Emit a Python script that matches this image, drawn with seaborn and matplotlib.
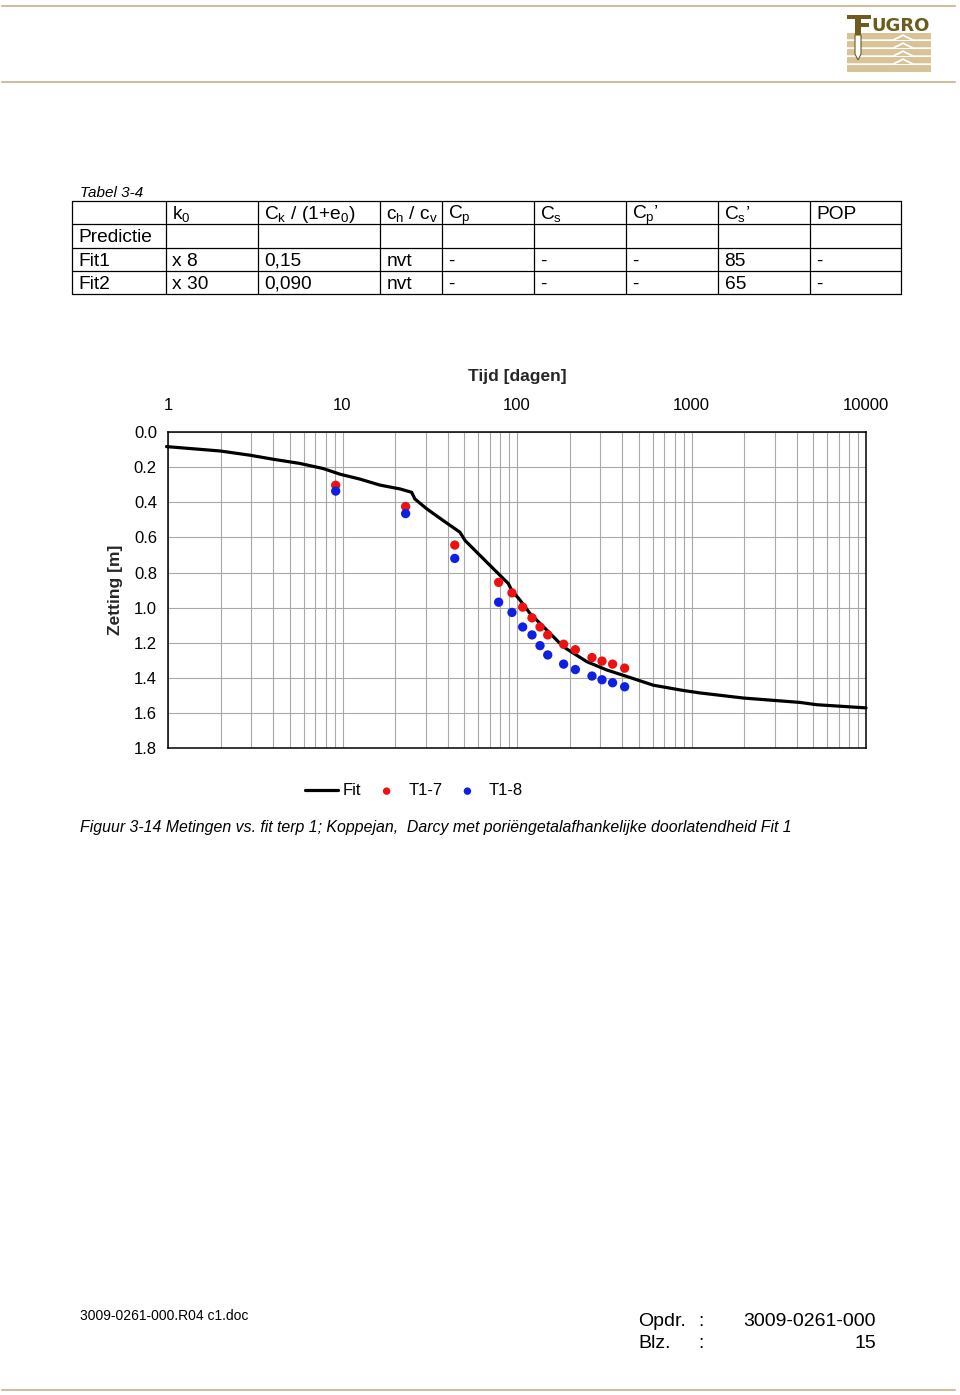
import numpy as np
import pandas as pd
import matplotlib
matplotlib.use("Agg")
import matplotlib.pyplot as plt
import seaborn as sns
from matplotlib.patches import Rectangle, Polygon
from matplotlib.ticker import FixedLocator, NullFormatter, FixedFormatter, FormatStrFormatter

# ---------------- data ----------------
table_header = ["", "k$_\\mathrm{0}$", "C$_\\mathrm{k}$ / (1+e$_\\mathrm{0}$)", "c$_\\mathrm{h}$ / c$_\\mathrm{v}$",
                "C$_\\mathrm{p}$", "C$_\\mathrm{s}$", "C$_\\mathrm{p}$\u2019", "C$_\\mathrm{s}$\u2019", "POP"]
table_row_predictie = ["Predictie", "", "", "", "", "", "", "", ""]
table_row_fit1 = ["Fit1", "x 8", "0,15", "nvt", "-", "-", "-", "85", "-"]
table_row_fit2 = ["Fit2", "x 30", "0,090", "nvt", "-", "-", "-", "65", "-"]

fit_time = [0.98, 1.99, 2.95, 4.01, 5.71, 7.76, 9.68, 12.6, 16.4, 21.4, 24.9, 26.0, 30.4,
            37.8, 47.1, 50.4, 58.7, 73.1, 89.2, 93.3, 104, 118.7, 148, 184, 251, 326, 425,
            604, 897, 1119, 1983, 4190, 5213, 10000]
fit_settlement = [0.083, 0.108, 0.132, 0.155, 0.179, 0.208, 0.240, 0.268, 0.302, 0.324, 0.343,
                  0.381, 0.437, 0.504, 0.570, 0.617, 0.683, 0.777, 0.862, 0.900, 0.956, 1.032,
                  1.126, 1.221, 1.306, 1.353, 1.390, 1.440, 1.470, 1.484, 1.513, 1.538, 1.551,
                  1.569]
meas_time = [9.14, 23.0, 44.0, 78.5, 93.6, 107.8, 121.9, 135.5, 150, 185, 216, 269, 307, 353, 414]
t1_7 = [0.303, 0.424, 0.643, 0.855, 0.915, 0.996, 1.057, 1.109, 1.154, 1.207, 1.238, 1.283,
        1.303, 1.320, 1.343]
t1_8 = [0.336, 0.464, 0.719, 0.968, 1.026, 1.109, 1.154, 1.215, 1.268, 1.320, 1.351, 1.388,
        1.409, 1.426, 1.449]

x_ticks = [1, 10, 100, 1000, 10000]
x_tick_labels = ["1", "10", "100", "1000", "10000"]
y_ticks = [0.0, 0.2, 0.4, 0.6, 0.8, 1.0, 1.2, 1.4, 1.6, 1.8]

# ---------------- style ----------------
sns.set_theme(style="white")
plt.rcParams["font.family"] = ["Liberation Sans", "DejaVu Sans"]
plt.rcParams["mathtext.fontset"] = "custom"
plt.rcParams["mathtext.rm"] = "Liberation Sans"
plt.rcParams["mathtext.it"] = "Liberation Sans:italic"
plt.rcParams["mathtext.bf"] = "Liberation Sans:bold"
plt.rcParams["text.color"] = "black"

W, H = 960, 1395
fig = plt.figure(figsize=(W / 100, H / 100), dpi=100)
fig.patch.set_facecolor("white")

# page overlay in pixel coordinates
bg = fig.add_axes([0, 0, 1, 1], zorder=0)
bg.set_xlim(0, W)
bg.set_ylim(H, 0)
bg.axis("off")

rule_col = "#cbbf9f"
bg.plot([2, 955], [6, 6], color=rule_col, lw=1.5)
bg.plot([2, 955], [82, 82], color=rule_col, lw=1.5)
bg.plot([2, 955], [1390, 1390], color=rule_col, lw=1.5)

# logo
olive = "#6e5c1e"
tan = "#d8c399"
stripe_tops = [33, 41, 49, 57, 65]
for yt in stripe_tops:
    bg.add_patch(Rectangle((847, yt), 84, 6.5, color=tan, lw=0, zorder=2))
for yt in stripe_tops[:-1]:
    g = yt + 7.2
    bg.plot([847, 893, 903, 913, 931], [g, g, g - 5, g, g], color="white", lw=1.3, zorder=3)
bg.add_patch(Rectangle((847, 15), 24, 4, color=olive, lw=0, zorder=4))
bg.add_patch(Rectangle((855, 15), 6, 20, color=olive, lw=0, zorder=4))
bg.add_patch(Rectangle((861, 23), 8, 3.5, color=olive, lw=0, zorder=4))
bg.add_patch(Polygon([[855, 35], [861, 35], [861, 54], [858, 60], [855, 54]],
                     closed=True, facecolor="white", edgecolor=olive, lw=0.8, zorder=4))
bg.text(871, 31, "UGRO", color=olive, fontsize=13, fontweight="heavy",
        family=["DejaVu Sans"], ha="left", va="baseline", zorder=5)

# table
bg.text(80, 197, "Tabel 3-4", fontsize=11, style="italic", ha="left", va="baseline")
col_edges = [72, 166, 258, 380, 442, 534, 626, 718, 810, 901]
row_edges = [201, 224.3, 247.7, 271, 294]
for xe in col_edges:
    bg.plot([xe, xe], [row_edges[0], row_edges[-1]], color="black", lw=0.9)
for ye in row_edges:
    bg.plot([col_edges[0], col_edges[-1]], [ye, ye], color="black", lw=0.9)
for r, row in enumerate([table_header, table_row_predictie, table_row_fit1, table_row_fit2]):
    for c, cell in enumerate(row):
        if cell:
            bg.text(col_edges[c] + 6.5, row_edges[r + 1] - 5.2, cell, fontsize=13.8,
                    ha="left", va="baseline")

# caption & footer
bg.text(80, 832, "Figuur 3-14 Metingen vs. fit terp 1; Koppejan,  Darcy met poriëngetalafhankelijke "
        "doorlatendheid Fit 1", fontsize=11.4, style="italic", ha="left", va="baseline")
bg.text(80, 1320, "3009-0261-000.R04 c1.doc", fontsize=10, ha="left", va="baseline")
bg.text(638, 1326, "Opdr.", fontsize=14, ha="left", va="baseline")
bg.text(698, 1326, ":", fontsize=14, ha="left", va="baseline")
bg.text(876, 1326, "3009-0261-000", fontsize=14, ha="right", va="baseline")
bg.text(638, 1348, "Blz.", fontsize=14, ha="left", va="baseline")
bg.text(698, 1348, ":", fontsize=14, ha="left", va="baseline")
bg.text(876, 1348, "15", fontsize=14, ha="right", va="baseline")

# ---------------- chart ----------------
ax_l, ax_r, ax_t, ax_b = 168, 866, 432, 748.5
ax = fig.add_axes([ax_l / W, 1 - ax_b / H, (ax_r - ax_l) / W, (ax_b - ax_t) / H], zorder=2)
ax.set_xscale("log")

fit_df = pd.DataFrame({"Tijd": fit_time, "Zetting": fit_settlement})
meas_df = pd.DataFrame({"Tijd": meas_time, "T1-7": t1_7, "T1-8": t1_8})

sns.lineplot(data=fit_df, x="Tijd", y="Zetting", ax=ax, color="black", lw=2.3,
             estimator=None, sort=False, label="Fit", zorder=3)
ax.lines[-1].set_clip_on(False)
sns.scatterplot(data=meas_df, x="Tijd", y="T1-7", ax=ax, color="#ee1111", s=45,
                edgecolor="none", label="T1-7", zorder=4)
sns.scatterplot(data=meas_df, x="Tijd", y="T1-8", ax=ax, color="#1020e0", s=45,
                edgecolor="none", label="T1-8", zorder=4)

ax.set_xlim(1, 10000)
ax.set_ylim(1.8, 0.0)
ax.xaxis.tick_top()
ax.xaxis.set_label_position("top")
ax.xaxis.set_major_locator(FixedLocator(x_ticks))
ax.xaxis.set_major_formatter(FixedFormatter(x_tick_labels))
minor = [m * 10 ** d for d in range(4) for m in range(2, 10)]
ax.xaxis.set_minor_locator(FixedLocator(minor))
ax.xaxis.set_minor_formatter(NullFormatter())
ax.yaxis.set_major_locator(FixedLocator(y_ticks))
ax.yaxis.set_major_formatter(FormatStrFormatter("%.1f"))

grid_kw = dict(color="#a8a8a8", lw=0.8)
ax.grid(True, which="major", axis="both", **grid_kw)
ax.grid(True, which="minor", axis="x", **grid_kw)
ax.set_axisbelow(True)

ax.tick_params(axis="both", which="both", length=0, labelsize=12, colors="black")
ax.tick_params(axis="x", pad=14)
ax.tick_params(axis="y", pad=8)
ax.set_xlabel("Tijd [dagen]", fontsize=12.5, fontweight="bold", labelpad=12)
ax.set_ylabel("Zetting [m]", fontsize=12.5, fontweight="bold", labelpad=8)
for sp in ax.spines.values():
    sp.set_color("black")
    sp.set_linewidth(1.1)
    sp.set_visible(True)

handles, labels = ax.get_legend_handles_labels()
ax.get_legend().remove()
fig.legend(handles, labels, loc="center", bbox_to_anchor=(414 / W, 1 - 791 / H), ncol=3,
           frameon=False, fontsize=12, handlelength=2.0, handletextpad=0.3,
           columnspacing=0.5, markerscale=0.8)

fig.savefig("out.png", dpi=100, facecolor="white")
